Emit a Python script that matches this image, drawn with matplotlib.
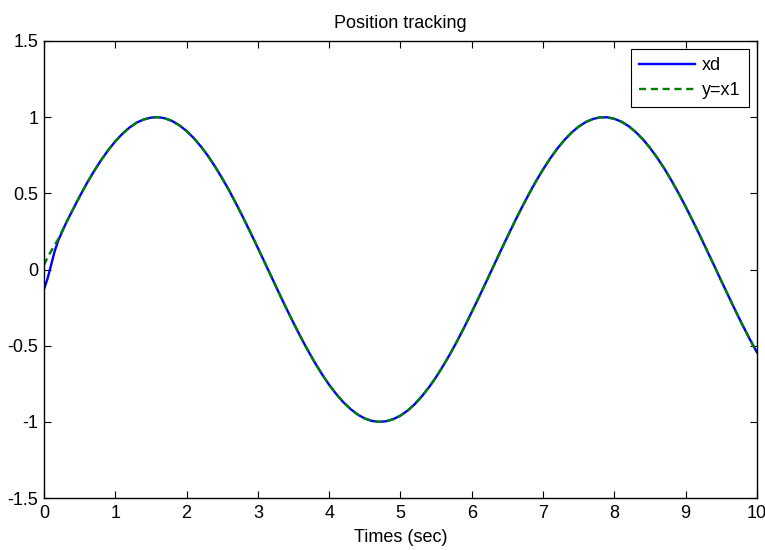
import matplotlib
matplotlib.use("Agg")
import matplotlib.pyplot as plt

plt.rcParams['font.family'] = ['Liberation Sans', 'DejaVu Sans']

# time samples (sec)
t = [0.0, 0.05, 0.1, 0.15, 0.2, 0.3, 0.4, 0.5, 0.6, 0.7, 0.8, 0.9,
     1.0, 1.1, 1.2, 1.3, 1.4, 1.5, 1.6, 1.7, 1.8, 1.9,
     2.0, 2.1, 2.2, 2.3, 2.4, 2.5, 2.6, 2.7, 2.8, 2.9,
     3.0, 3.1, 3.2, 3.3, 3.4, 3.5, 3.6, 3.7, 3.8, 3.9,
     4.0, 4.1, 4.2, 4.3, 4.4, 4.5, 4.6, 4.7, 4.8, 4.9,
     5.0, 5.1, 5.2, 5.3, 5.4, 5.5, 5.6, 5.7, 5.8, 5.9,
     6.0, 6.1, 6.2, 6.3, 6.4, 6.5, 6.6, 6.7, 6.8, 6.9,
     7.0, 7.1, 7.2, 7.3, 7.4, 7.5, 7.6, 7.7, 7.8, 7.9,
     8.0, 8.1, 8.2, 8.3, 8.4, 8.5, 8.6, 8.7, 8.8, 8.9,
     9.0, 9.1, 9.2, 9.3, 9.4, 9.5, 9.6, 9.7, 9.8, 9.9, 10.0]

# shared part of both curves after the start transient (t >= 0.3)
tail = [0.296, 0.389, 0.479, 0.565, 0.644, 0.717, 0.783,
        0.841, 0.891, 0.932, 0.964, 0.985, 0.997, 1.000, 0.992, 0.974, 0.946,
        0.909, 0.863, 0.808, 0.746, 0.675, 0.598, 0.516, 0.427, 0.335, 0.239,
        0.141, 0.042, -0.058, -0.158, -0.256, -0.351, -0.443, -0.530, -0.612, -0.688,
        -0.757, -0.818, -0.872, -0.916, -0.952, -0.978, -0.994, -1.000, -0.996, -0.982,
        -0.959, -0.926, -0.884, -0.832, -0.773, -0.706, -0.631, -0.551, -0.465, -0.374,
        -0.279, -0.182, -0.083, 0.017, 0.117, 0.215, 0.312, 0.405, 0.494, 0.579,
        0.657, 0.729, 0.794, 0.850, 0.899, 0.938, 0.968, 0.988, 0.999, 0.999,
        0.989, 0.970, 0.941, 0.902, 0.855, 0.798, 0.734, 0.663, 0.585, 0.501,
        0.412, 0.319, 0.223, 0.124, 0.025, -0.075, -0.174, -0.272, -0.367, -0.458, -0.544]

xd = [-0.13, -0.06, 0.03, 0.12, 0.19] + tail
y = [0.03, 0.08, 0.12, 0.16, 0.20] + tail

fs = 13

fig = plt.figure(figsize=(7.65, 5.5), dpi=100)
ax = fig.add_axes([0.0575, 0.0945, 0.932, 0.831])

ax.plot(t, xd, color='#0000ff', lw=1.7, label='xd')
ax.plot(t, y, color='#008000', lw=1.7, ls='--', dashes=(3, 2), label='y=x1')

ax.set_xlim(0, 10)
ax.set_ylim(-1.5, 1.5)
ax.set_xticks(range(0, 11))
ax.set_yticks([-1.5, -1, -0.5, 0, 0.5, 1, 1.5])
ax.set_yticklabels(['-1.5', '-1', '-0.5', '0', '0.5', '1', '1.5'])
ax.tick_params(direction='in', top=True, right=True, length=5, labelsize=fs)
ax.tick_params(axis='x', pad=5)
ax.tick_params(axis='y', pad=4)
for s in ax.spines.values():
    s.set_linewidth(1.0)

ax.set_title('Position tracking', fontsize=fs, pad=9)
ax.set_xlabel('Times (sec)', fontsize=fs, labelpad=5)

leg = ax.legend(loc='upper right', fontsize=fs, fancybox=False,
                framealpha=1, edgecolor='black', borderaxespad=0.45,
                handlelength=3.1, handletextpad=0.4, labelspacing=0.45,
                borderpad=0.45)
leg.get_frame().set_linewidth(0.8)

fig.savefig('out.png', dpi=100)
